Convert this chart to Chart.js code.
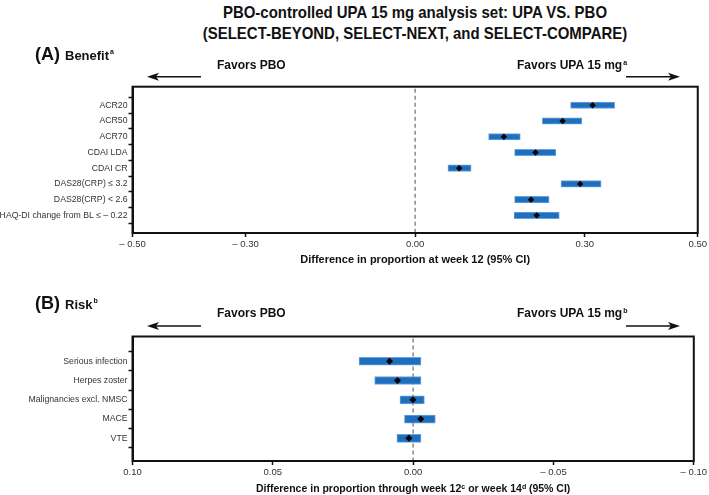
<!DOCTYPE html>
<html>
<head>
<meta charset="utf-8">
<script src="https://cdn.jsdelivr.net/npm/chart.js@4.4.1/dist/chart.umd.min.js"></script>
<style>
  body { margin: 0; background: #fff; }
  #wrap { position: relative; width: 709px; height: 495px; overflow: hidden; }
  #wrap canvas { position: absolute; left: 0; top: 0; }
  #title {
    position: absolute; left: 115px; width: 600px; top: 2px;
    text-align: center; font: bold 17px "Liberation Sans", Arial, sans-serif;
    line-height: 21px; color: #111;
    transform: scaleX(0.88); transform-origin: 300px 0;
  }
</style>
</head>
<body>
<div id="wrap">
  <div id="title">PBO-controlled UPA 15 mg analysis set: UPA VS. PBO<br>(SELECT-BEYOND, SELECT-NEXT, and SELECT-COMPARE)</div>
  <canvas id="benefit" width="709" height="495"></canvas>
  <canvas id="risk" width="709" height="495"></canvas>
</div>
<script>
// (A) Benefit - difference in proportion at week 12
const benefitLabels = ['ACR20', 'ACR50', 'ACR70', 'CDAI LDA', 'CDAI CR',
  'DAS28(CRP) \u2264 3.2', 'DAS28(CRP) < 2.6', 'HAQ-DI change from BL \u2264 \u2013 0.22'];
const benefitEst  = [0.314, 0.261, 0.157, 0.213, 0.078, 0.292, 0.205, 0.215];
const benefitLow  = [0.275, 0.225, 0.130, 0.176, 0.058, 0.258, 0.176, 0.175];
const benefitHigh = [0.353, 0.295, 0.186, 0.249, 0.099, 0.329, 0.237, 0.255];
const benefitTicks = [-0.5, -0.3, 0, 0.3, 0.5];
const benefitTickLabels = ['\u2013 0.50', '\u2013 0.30', '0.00', '0.30', '0.50'];

// (B) Risk - difference in proportion through week 12/14
const riskLabels = ['Serious infection', 'Herpes zoster', 'Malignancies excl. NMSC', 'MACE', 'VTE'];
const riskEst  = [0.0084, 0.0056, 0.0001, -0.0027, 0.0015];
const riskLow  = [-0.0028, -0.0028, -0.0040, -0.0079, -0.0028];
const riskHigh = [0.0193, 0.0137, 0.0047, 0.0031, 0.0058];
const riskTicks = [0.1, 0.05, 0, -0.05, -0.1];
const riskTickLabels = ['0.10', '0.05', '0.00', '\u2013 0.05', '\u2013 0.10'];

const SANS = '"Liberation Sans", Arial, sans-serif';

function arrow(ctx, x1, x2, y) {
  // x2 is the head end
  const dir = x2 > x1 ? 1 : -1;
  ctx.beginPath();
  ctx.moveTo(x1, y);
  ctx.lineTo(x2 - dir * 8, y);
  ctx.lineWidth = 1.5;
  ctx.strokeStyle = '#111';
  ctx.stroke();
  ctx.beginPath();
  ctx.moveTo(x2, y);
  ctx.lineTo(x2 - dir * 12, y - 4);
  ctx.lineTo(x2 - dir * 9, y);
  ctx.lineTo(x2 - dir * 12, y + 4);
  ctx.closePath();
  ctx.fillStyle = '#111';
  ctx.fill();
}

const forestPlugin = {
  id: 'forest',
  beforeDatasetsDraw(chart) {
    const ctx = chart.ctx, a = chart.chartArea;
    const x0 = chart.scales.x.getPixelForValue(0);
    ctx.save();
    ctx.setLineDash([4, 3]);
    ctx.strokeStyle = '#8a8a8a';
    ctx.lineWidth = 1.5;
    ctx.beginPath();
    ctx.moveTo(x0, a.top + 2);
    ctx.lineTo(x0, a.bottom);
    ctx.stroke();
    ctx.restore();
  },
  afterDraw(chart, args, o) {
    const ctx = chart.ctx, a = chart.chartArea;
    ctx.save();
    ctx.strokeStyle = '#111';
    ctx.lineWidth = 2;
    ctx.strokeRect(a.left, a.top, a.right - a.left, a.bottom - a.top);

    ctx.fillStyle = '#111';
    ctx.textBaseline = 'middle';
    ctx.textAlign = 'left';
    ctx.font = 'bold 18px ' + SANS;
    ctx.fillText(o.letter, 35, o.y);
    let x = 35 + ctx.measureText(o.letter).width + 5;
    ctx.font = 'bold 13px ' + SANS;
    ctx.fillText(o.word, x, o.y + 1);
    x += ctx.measureText(o.word).width + 1;
    ctx.font = 'bold 7px ' + SANS;
    ctx.fillText(o.sup, x, o.y - 3);

    ctx.font = 'bold 12px ' + SANS;
    ctx.fillText('Favors PBO', 217, o.favY);
    ctx.fillText('Favors UPA 15 mg', 517, o.favY);
    const w = ctx.measureText('Favors UPA 15 mg').width;
    ctx.font = 'bold 7px ' + SANS;
    ctx.fillText(o.sup, 517 + w + 1, o.favY - 3);

    arrow(ctx, 201, 147, o.arrowY);
    arrow(ctx, 626, 680, o.arrowY);
    ctx.restore();
  }
};

function forest(id, cfg) {
  new Chart(document.getElementById(id), {
    type: 'bar',
    data: {
      datasets: [{
        type: 'bar',
        order: 2,
        data: cfg.labels.map((l, i) => ({ x: [cfg.low[i], cfg.high[i]], y: i })),
        backgroundColor: '#1f6fbf',
        borderColor: '#6ea3d8',
        borderWidth: 1,
        borderSkipped: false,
        barThickness: cfg.barThickness
      }, {
        type: 'scatter',
        order: 1,
        data: cfg.labels.map((l, i) => ({ x: cfg.est[i], y: i })),
        pointStyle: 'rectRot',
        pointRadius: cfg.pointRadius,
        backgroundColor: '#000',
        borderColor: '#000',
        borderWidth: 0
      }]
    },
    options: {
      indexAxis: 'y',
      responsive: false,
      animation: false,
      devicePixelRatio: 1,
      layout: { padding: { left: 0, right: 9, top: cfg.top, bottom: cfg.bottom } },
      plugins: {
        legend: { display: false },
        tooltip: { enabled: false },
        forest: cfg.header
      },
      scales: {
        y: {
          type: 'linear',
          reverse: true,
          min: cfg.yMin,
          max: cfg.yMax,
          afterBuildTicks: s => { s.ticks = cfg.labels.map((l, i) => ({ value: i })); },
          afterFit: s => { s.width = 132.5; },
          ticks: {
            autoSkip: false,
            padding: 1,
            color: '#333',
            font: { family: SANS, size: 8.7 },
            callback: v => cfg.labels[v]
          },
          grid: { drawOnChartArea: false, drawTicks: true, tickLength: 4, tickColor: '#111', tickWidth: 1.5 },
          border: { display: true, color: '#111', width: 2 }
        },
        x: {
          type: 'linear',
          reverse: !!cfg.reverse,
          min: cfg.xMin,
          max: cfg.xMax,
          afterBuildTicks: s => { s.ticks = cfg.ticks.map(v => ({ value: v })); },
          afterFit: s => { s.height = 34; },
          ticks: {
            autoSkip: false,
            maxRotation: 0,
            padding: 2,
            color: '#333',
            font: { family: SANS, size: 9.5 },
            callback: v => cfg.tickLabels[cfg.ticks.indexOf(v)]
          },
          grid: { drawOnChartArea: false, drawTicks: true, tickLength: 4, tickColor: '#111', tickWidth: 1.5 },
          border: { display: true, color: '#111', width: 2 },
          title: {
            display: true,
            text: cfg.xTitle,
            color: '#111',
            padding: { top: 2, bottom: 0 },
            font: { family: SANS, size: cfg.xTitleSize, weight: 'bold' }
          }
        }
      }
    },
    plugins: [forestPlugin]
  });
}

forest('benefit', {
  labels: benefitLabels, est: benefitEst, low: benefitLow, high: benefitHigh,
  ticks: benefitTicks, tickLabels: benefitTickLabels,
  xMin: -0.5, xMax: 0.5,
  yMin: -0.6, yMax: 7.54,
  top: 86.7, bottom: 495 - 233 - 34,
  barThickness: 6.5, pointRadius: 3.2,
  xTitle: 'Difference in proportion at week 12 (95% CI)', xTitleSize: 11,
  header: { letter: '(A)', word: 'Benefit', sup: 'a', y: 55, favY: 66, arrowY: 76.7 }
});

forest('risk', {
  labels: riskLabels, est: riskEst, low: riskLow, high: riskHigh,
  ticks: riskTicks, tickLabels: riskTickLabels,
  xMin: -0.1, xMax: 0.1, reverse: true,
  yMin: -0.64, yMax: 4.53,
  top: 336.5, bottom: 495 - 461 - 34,
  barThickness: 8, pointRadius: 3.5,
  xTitle: 'Difference in proportion through week 12\u1D9C or week 14\u1D48 (95% CI)', xTitleSize: 10.5,
  header: { letter: '(B)', word: 'Risk', sup: 'b', y: 304, favY: 314, arrowY: 326 }
});
</script>
</body>
</html>
